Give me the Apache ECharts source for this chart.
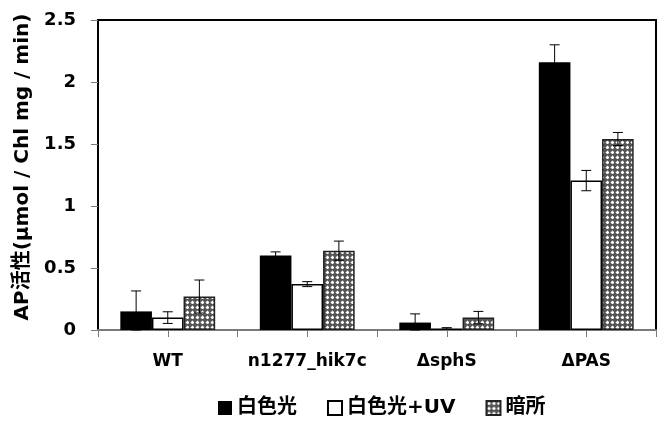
<!DOCTYPE html>
<html>
<head>
<meta charset="utf-8">
<script src="https://cdn.jsdelivr.net/npm/echarts@6/dist/echarts.min.js"></script>
<style>html,body{margin:0;padding:0;background:#fff}#c{width:664px;height:421px}</style>
</head>
<body>
<div id="c"></div>
<script>
const categories = ['WT', 'n1277_hik7c', 'ΔsphS', 'ΔPAS'];
const seriesNames = ['白色光', '白色光+UV', '暗所'];
const whiteLight = [0.15, 0.60, 0.06, 2.16];
const whiteLightErr = [0.165, 0.03, 0.07, 0.14];
const whiteUV = [0.10, 0.37, 0.013, 1.205];
const whiteUVErr = [0.047, 0.02, 0.006, 0.082];
const darkPlace = [0.27, 0.64, 0.10, 1.54];
const darkPlaceErr = [0.133, 0.077, 0.05, 0.053];
const yMin = 0, yMax = 2.5, yInterval = 0.5;

const FONT = "'DejaVu Sans', 'Noto Sans CJK JP', sans-serif";
const CAT_GAP = 0.32;

function makePattern() {
  const c = document.createElement('canvas');
  c.width = 5; c.height = 5;
  const g = c.getContext('2d');
  g.fillStyle = '#555555'; g.fillRect(0, 0, 5, 5);
  g.fillStyle = '#ffffff'; g.fillRect(1, 1, 3, 3);
  g.fillStyle = '#a8a8a8';
  g.fillRect(1, 1, 1, 1); g.fillRect(3, 1, 1, 1); g.fillRect(1, 3, 1, 1); g.fillRect(3, 3, 1, 1);
  g.fillStyle = '#888888'; g.fillRect(2, 0, 1, 1); g.fillRect(0, 2, 1, 1);
  return c;
}
const pattern = { image: makePattern(), repeat: 'repeat' };

const values = [whiteLight, whiteUV, darkPlace];
const errs = [whiteLightErr, whiteUVErr, darkPlaceErr];
const styles = [
  { color: '#000000', borderColor: '#000000', borderWidth: 0 },
  { color: '#ffffff', borderColor: '#000000', borderWidth: 1.5 },
  { color: pattern, borderColor: '#222222', borderWidth: 1.5 }
];

const series = [];
for (let k = 0; k < 3; k++) {
  series.push({
    name: seriesNames[k], type: 'bar', data: values[k],
    barGap: '0%', barCategoryGap: (CAT_GAP * 100) + '%',
    itemStyle: styles[k], z: 2
  });
}
for (let k = 0; k < 3; k++) {
  series.push({
    type: 'custom', z: 5, silent: true,
    data: values[k].map((v, i) => [i, v, errs[k][i]]),
    renderItem: (function (kk) {
      return function (params, api) {
        const x = api.value(0), v = api.value(1), e = api.value(2);
        const band = api.size([1, 0])[0];
        const bw = band * (1 - CAT_GAP) / 3;
        const off = (kk - 1) * bw;
        const top = api.coord([x, v + e]);
        const bot = api.coord([x, Math.max(0, v - e)]);
        const cx = top[0] + off;
        const h = 5;
        const st = { stroke: '#000', lineWidth: 1 };
        return {
          type: 'group',
          children: [
            { type: 'line', shape: { x1: cx, y1: top[1], x2: cx, y2: bot[1] }, style: st },
            { type: 'line', shape: { x1: cx - h, y1: top[1], x2: cx + h, y2: top[1] }, style: st },
            { type: 'line', shape: { x1: cx - h, y1: bot[1], x2: cx + h, y2: bot[1] }, style: st }
          ]
        };
      };
    })(k)
  });
}

const chart = echarts.init(document.getElementById('c'), null, { renderer: 'canvas' });
chart.setOption({
  animation: false,
  backgroundColor: '#ffffff',
  grid: { left: 98, right: 8, top: 20, bottom: 91, show: true, borderColor: '#000', borderWidth: 2, containLabel: false },
  legend: {
    data: seriesNames, left: 213, top: 393, itemWidth: 14, itemHeight: 14, itemGap: 30, icon: 'rect',
    textStyle: { fontFamily: FONT, fontSize: 20, fontWeight: 'bold', color: '#000' }
  },
  xAxis: [
    {
      type: 'category', data: categories, position: 'bottom',
      axisLine: { lineStyle: { color: '#7a7a7a', width: 2 } },
      axisTick: { show: true, length: 7, lineStyle: { color: '#7a7a7a', width: 1 } },
      axisLabel: { interval: 0, margin: 23, fontFamily: FONT, fontSize: 17, fontWeight: 'bold', color: '#000' },
      splitLine: { show: false }
    },
    {
      type: 'category', data: categories, position: 'bottom', gridIndex: 0,
      axisLine: { show: false },
      axisTick: { show: true, alignWithLabel: true, interval: 0, length: 7, lineStyle: { color: '#7a7a7a', width: 1 } },
      axisLabel: { show: false },
      splitLine: { show: false }
    }
  ],
  yAxis: {
    type: 'value', min: yMin, max: yMax, interval: yInterval,
    name: 'AP活性(μmol / Chl mg / min)', nameLocation: 'middle', nameGap: 63, nameRotate: 90,
    nameTextStyle: { fontFamily: FONT, fontSize: 20, fontWeight: 'bold', color: '#000', padding: [0, 0, 0, 16] },
    axisLine: { show: true, lineStyle: { color: '#000', width: 2 } },
    axisTick: { show: true, length: 7, lineStyle: { color: '#7a7a7a', width: 1 } },
    axisLabel: { margin: 22, fontFamily: FONT, fontSize: 18, fontWeight: 'bold', color: '#000' },
    splitLine: { show: false }
  },
  series: series
});
</script>
</body>
</html>
